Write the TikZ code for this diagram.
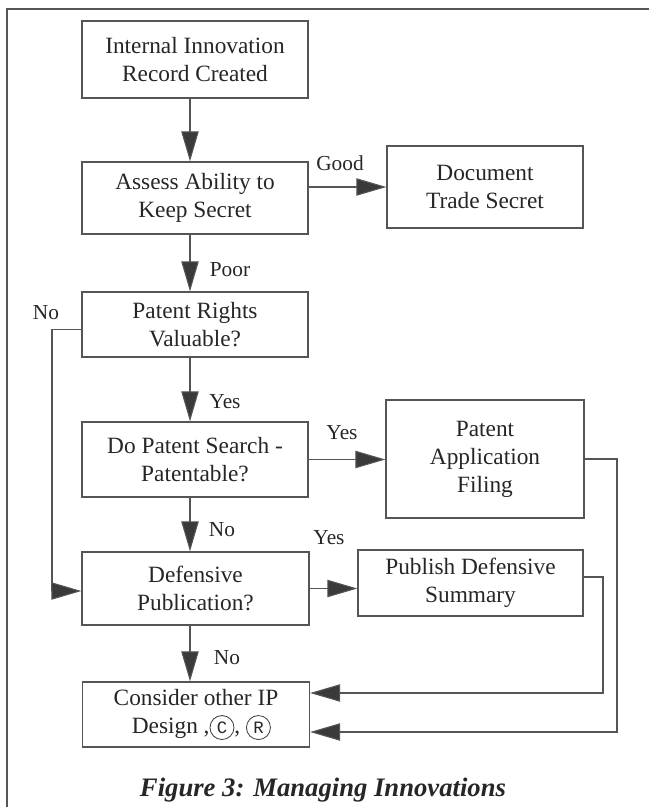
\documentclass[tikz,border=0pt]{standalone}
\usepackage{fontspec}
\setmainfont{Liberation Serif}
\setmonofont{Liberation Mono}
\usepackage{tikz}
\usetikzlibrary{positioning}
\usetikzlibrary{arrows.meta}
\definecolor{inkgray}{HTML}{3A3A3A}
\definecolor{linegray}{HTML}{555555}
\newcommand{\ringed}[1]{\tikz[baseline=(rg.base)]\node[draw=inkgray,circle,line width=0.6pt,inner sep=0pt,minimum size=18pt,font=\fontsize{13}{13}\selectfont\ttfamily](rg){#1};}

\begin{document}
\begin{tikzpicture}[x=0.75pt, y=-0.75pt,
    box/.style={draw=linegray, line width=0.9pt, align=center, inner sep=2pt,
        font=\fontsize{17.5}{21}\selectfont, text=black!85},
    lbl/.style={font=\fontsize{16}{18}\selectfont, text=black!85},
    flow/.style={draw=linegray, line width=0.8pt,
        -{Triangle[length=22.5pt, width=13pt, fill=inkgray]}}]
    \useasboundingbox (0,0) rectangle (649,807);
    % Frame
    \draw[linegray, line width=1.1pt] (7,807) -- (7,9) -- (649,9);

    % Main column
    \node[box, minimum width=169.5pt, minimum height=57.75pt] (rec) at (195,59.5) {Internal Innovation\\Record Created};
    \node[box, minimum width=169.5pt, minimum height=54pt] (assess) at (195,198) {Assess Ability to\\Keep Secret};
    \node[box, minimum width=169.5pt, minimum height=48.75pt] (rights) at (195,324.5) {Patent Rights\\Valuable?};
    \node[box, minimum width=169.5pt, minimum height=56.25pt] (search) at (195,459.5) {Do Patent Search -\\Patentable?};
    \node[box, minimum width=170.25pt, minimum height=54.75pt] (defpub) at (195.5,588.5) {Defensive\\Publication?};
    \node[box, minimum width=170.25pt, minimum height=48.75pt] (other) at (196,714.5) {Consider other IP\\\hspace*{8pt}Design ,\ringed{C}, \ringed{R}};

    % Right column
    \node[box, minimum width=147pt, minimum height=61.5pt] (trade) at (485,187) {Document\\Trade Secret};
    \node[box, minimum width=148.5pt, minimum height=88.5pt] (filing) at (485,459) {Patent\\Application\\Filing};
    \node[box, minimum width=168.75pt, minimum height=49.5pt] (summary) at (470.5,583) {Publish Defensive\\Summary};

    % Turning points
    \coordinate (spine) at (190,0);
    \coordinate (nobend) at (52,591);
    \coordinate (filebend) at (617,732);
    \coordinate (sumbend) at (603,693);

    % Down the column
    \draw[flow] (rec.south -| spine) -- (assess.north -| spine);
    \draw[flow] (assess.south -| spine) -- (rights.north -| spine);
    \draw[flow] (rights.south -| spine) -- (search.north -| spine);
    \draw[flow] (search.south -| spine) -- (defpub.north -| spine);
    \draw[flow] (defpub.south -| spine) -- (other.north -| spine);

    % Across
    \draw[flow] (assess.east |- trade.west) -- (trade.west);
    \draw[flow] (search.east) -- (filing.west |- search.east);
    \draw[flow] (defpub.east) -- (summary.west |- defpub.east);

    % Loops back
    \draw[flow] ([yshift=-4pt]rights.west) -| (nobend) -- (nobend -| defpub.west);
    \draw[flow] (filing.east) -| (filebend) -- (filebend -| other.east);
    \draw[flow] ([yshift=4.5pt]summary.east) -| (sumbend) -- (sumbend -| other.east);

    % Labels
    \node[lbl] (lgood) at (340,163) {Good};
    \node[lbl] (lpoor) at (230,270) {Poor};
    \node[lbl] (lnoright) at (46,313) {No};
    \node[lbl] (lyesrights) at (225,402) {Yes};
    \node[lbl] (lyessearch) at (342,433) {Yes};
    \node[lbl] (lnosearch) at (222,530) {No};
    \node[lbl] (lyesdef) at (329,538) {Yes};
    \node[lbl] (lnodef) at (227,658) {No};

    % Caption
    \node[font=\fontsize{20}{24}\selectfont\bfseries\itshape, text=black!85] (caption) at (323,790) {Figure 3: Managing Innovations};
\end{tikzpicture}
\end{document}
